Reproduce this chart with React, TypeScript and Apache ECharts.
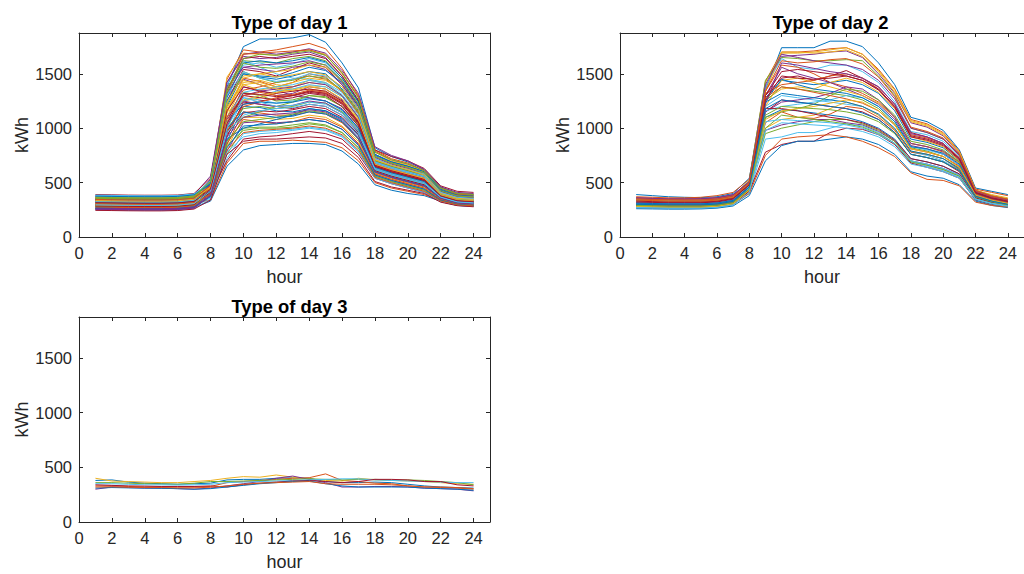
import React, { useEffect, useRef } from "react";
import * as echarts from "echarts";

const HOURS = [1, 2, 3, 4, 5, 6, 7, 8, 9, 10, 11, 12, 13, 14, 15, 16, 17, 18, 19, 20, 21, 22, 23, 24];
const X_TICKS = [0, 2, 4, 6, 8, 10, 12, 14, 16, 18, 20, 22, 24];
const Y_TICKS = [0, 500, 1000, 1500];
const TITLES = ["Type of day 1", "Type of day 2", "Type of day 3"];
const COLORS = ["#0072BD", "#D95319", "#EDB120", "#7E2F8E", "#77AC30", "#4DBEEE", "#A2142F"];

const DAY1: number[][] = [
  [330,328,326,325,325,328,345,480,1380,1750,1820,1820,1830,1860,1790,1600,1370,820,740,690,620,460,400,390],
  [360,355,352,350,350,352,370,520,1450,1720,1700,1720,1750,1780,1730,1550,1300,800,720,680,610,450,400,395],
  [300,298,296,295,295,298,315,500,1470,1690,1680,1670,1700,1720,1680,1500,1280,780,700,660,600,440,390,380],
  [380,378,375,374,374,376,390,560,1420,1660,1640,1650,1680,1700,1650,1480,1260,760,690,650,590,430,385,375],
  [270,268,266,265,265,268,285,450,1350,1620,1610,1600,1640,1660,1620,1460,1240,740,680,640,580,420,370,360],
  [320,318,316,315,315,318,335,470,1300,1580,1600,1560,1590,1640,1600,1440,1220,720,660,620,570,410,360,350],
  [350,348,345,344,344,346,362,500,1250,1540,1520,1480,1540,1600,1560,1400,1200,700,650,610,560,400,350,340],
  [290,288,286,285,285,288,305,430,1200,1500,1470,1450,1480,1520,1500,1360,1160,690,640,600,550,395,345,335],
  [260,258,256,255,255,258,275,420,1150,1460,1430,1380,1420,1500,1470,1340,1130,680,630,590,540,390,340,330],
  [340,338,336,335,335,338,352,480,1100,1420,1440,1400,1380,1420,1400,1300,1100,670,610,570,520,380,335,325],
  [310,308,306,305,305,308,322,450,1050,1380,1350,1300,1320,1380,1360,1260,1060,650,600,560,510,375,330,320],
  [370,368,365,364,364,366,380,520,1000,1330,1300,1250,1260,1300,1280,1200,1020,640,590,550,500,370,325,315],
  [280,278,276,275,275,278,292,400,950,1280,1260,1230,1250,1280,1250,1160,990,620,570,530,490,365,320,310],
  [330,328,326,325,325,328,342,440,920,1240,1220,1200,1180,1220,1200,1120,960,610,560,520,480,360,315,305],
  [300,298,296,295,295,298,312,410,880,1200,1190,1160,1150,1180,1160,1080,930,600,550,510,470,355,312,300],
  [250,248,246,245,245,248,262,380,850,1150,1140,1120,1120,1150,1130,1050,900,590,540,500,460,350,308,298],
  [360,358,355,354,354,356,370,470,820,1100,1100,1080,1090,1120,1100,1020,880,580,530,490,450,345,305,295],
  [320,318,316,315,315,318,332,420,790,1050,1060,1050,1060,1080,1060,990,850,570,520,480,440,340,300,290],
  [290,288,286,285,285,288,302,390,760,1000,1010,1010,1030,1050,1030,960,820,560,510,470,430,335,298,288],
  [270,268,266,265,265,268,282,360,720,950,970,980,990,1010,990,930,790,550,500,460,420,330,295,285],
  [340,338,336,335,335,338,352,400,700,900,920,930,950,970,950,900,760,540,490,450,410,325,292,282],
  [260,258,256,255,255,258,272,330,650,800,840,850,860,860,850,790,670,480,430,400,380,330,290,280],
  [300,298,296,295,295,298,312,340,680,860,880,880,890,880,870,820,700,500,450,420,390,335,295,285],
  [310,308,306,305,305,308,322,460,1150,1250,1280,1320,1380,1440,1420,1300,1100,660,610,570,530,380,335,325],
  [350,348,345,344,344,346,360,490,1300,1450,1400,1350,1300,1280,1250,1180,1000,630,580,540,500,370,330,320],
  [280,278,276,275,275,278,292,420,980,1100,1150,1200,1240,1300,1290,1200,1030,640,590,550,510,375,330,320],
  [330,328,326,325,325,328,342,500,1400,1620,1560,1500,1460,1450,1420,1330,1140,680,620,580,540,385,340,330],
  [390,388,385,384,384,386,400,540,1350,1640,1660,1640,1660,1680,1640,1480,1250,800,740,700,630,470,420,410],
  [260,258,256,255,255,258,272,380,900,1000,1040,1080,1120,1180,1160,1090,940,600,550,510,470,360,315,305],
  [300,298,296,295,295,298,312,430,1100,1350,1380,1420,1450,1480,1450,1340,1140,700,650,610,560,390,345,335],
  [340,338,336,335,335,338,352,470,1200,1400,1350,1380,1420,1460,1440,1350,1150,710,660,620,580,400,355,345],
  [370,368,365,364,364,366,380,510,1380,1560,1540,1520,1560,1580,1540,1400,1180,740,680,640,590,420,370,360],
  [290,288,286,285,285,288,302,410,1000,1180,1200,1180,1200,1240,1230,1150,980,620,570,530,490,365,320,310],
  [250,248,246,245,245,248,262,350,780,920,950,960,980,1000,980,920,780,540,490,450,410,325,290,280],
  [320,318,316,315,315,318,332,450,1080,1300,1280,1260,1280,1320,1300,1200,1020,650,600,560,520,375,330,320],
  [360,358,355,354,354,356,370,500,1250,1500,1480,1470,1510,1560,1530,1420,1200,750,690,650,600,430,380,370],
  [280,278,276,275,275,278,292,400,860,1080,1060,1040,1060,1100,1080,1010,860,580,530,490,450,345,305,295],
  [310,308,306,305,305,308,322,440,1150,1400,1420,1380,1360,1390,1380,1290,1090,670,620,580,540,385,340,330],
  [340,338,336,335,335,338,352,530,1420,1680,1700,1680,1700,1730,1690,1530,1320,830,750,700,620,460,410,400],
  [270,268,266,265,265,268,282,380,840,980,1000,1000,1010,1040,1020,960,820,560,510,470,430,335,298,288],
  [380,378,375,374,374,376,390,480,1050,1250,1300,1340,1360,1400,1380,1290,1100,680,630,590,550,390,345,335],
  [300,298,296,295,295,298,312,420,960,1220,1250,1270,1300,1330,1310,1220,1040,650,600,560,520,380,335,325],
  [345,343,340,339,339,342,356,490,1280,1600,1620,1600,1620,1650,1610,1460,1240,760,690,650,600,440,390,380],
  [275,273,271,270,270,273,288,440,1320,1680,1690,1700,1710,1720,1670,1510,1290,790,710,670,610,450,395,385],
  [365,363,360,359,359,362,376,470,1180,1460,1500,1520,1540,1580,1560,1430,1210,740,680,640,590,420,375,365],
  [255,253,251,250,250,253,267,390,1020,1300,1340,1360,1380,1420,1400,1300,1100,670,620,580,540,385,340,330],
  [325,323,321,320,320,323,337,460,1220,1520,1460,1420,1440,1480,1460,1350,1150,700,650,610,570,395,350,340],
  [385,383,380,379,379,382,396,500,1100,1330,1360,1380,1400,1440,1410,1310,1120,690,640,600,560,400,355,345],
  [295,293,291,290,290,293,307,410,940,1140,1160,1150,1170,1200,1180,1100,940,610,560,520,480,360,318,308],
  [265,263,261,260,260,263,277,370,820,1020,1030,1040,1060,1080,1060,990,840,570,520,480,440,338,300,290],
  [355,353,350,349,349,352,366,450,980,1200,1240,1280,1300,1340,1320,1230,1050,660,610,570,530,380,336,326],
  [305,303,301,300,300,303,317,440,1160,1440,1400,1360,1340,1360,1340,1250,1070,660,610,570,530,385,340,330],
  [335,333,331,330,330,333,347,480,1320,1560,1580,1590,1600,1620,1580,1430,1210,730,670,630,580,420,370,360],
  [285,283,281,280,280,283,297,400,880,1060,1080,1100,1130,1160,1140,1060,900,600,550,510,470,355,312,302],
  [375,373,370,369,369,372,386,520,1300,1520,1460,1430,1450,1500,1480,1380,1180,720,660,620,580,410,365,355],
  [245,243,241,240,240,243,257,340,760,880,900,900,910,920,910,860,730,510,460,430,400,320,288,278],
  [315,313,311,310,310,313,327,420,1000,1150,1120,1100,1110,1150,1130,1060,900,600,550,510,470,360,318,308],
  [345,343,341,340,340,343,357,470,1100,1300,1330,1300,1310,1350,1330,1240,1050,660,610,570,530,380,336,326],
  [295,293,291,290,290,293,307,450,1240,1480,1500,1470,1490,1520,1490,1380,1170,710,660,620,570,400,355,345],
  [265,263,261,260,260,263,277,400,1050,1250,1220,1200,1210,1250,1230,1140,970,630,580,540,500,370,326,316],
  [355,353,351,350,350,353,367,500,1360,1640,1680,1670,1690,1710,1670,1510,1280,780,710,670,610,450,400,390],
  [325,323,321,320,320,323,337,430,960,1120,1160,1180,1190,1220,1200,1120,950,620,570,530,490,365,322,312],
  [285,283,281,280,280,283,297,430,1160,1380,1340,1320,1340,1360,1340,1250,1060,660,610,570,530,380,336,326],
  [375,373,371,370,370,373,387,490,1060,1220,1240,1230,1240,1270,1250,1170,1000,640,590,550,510,380,336,326],
  [305,303,301,300,300,303,317,390,800,960,980,990,1000,1020,1000,940,800,550,500,460,420,332,296,286],
  [335,333,331,330,330,333,347,460,1060,1260,1300,1330,1350,1380,1360,1270,1080,670,620,580,540,385,340,330],
  [255,253,251,250,250,253,267,380,920,1100,1120,1130,1140,1170,1150,1070,910,600,550,510,470,355,312,302],
  [365,363,361,360,360,363,377,510,1330,1600,1560,1550,1570,1610,1580,1440,1220,740,680,640,590,425,378,368],
  [295,293,291,290,290,293,307,420,1000,1280,1240,1200,1210,1240,1220,1140,970,630,580,540,500,368,324,314],
  [315,313,311,310,310,313,327,440,1040,1320,1310,1290,1300,1340,1320,1230,1050,650,600,560,520,378,334,324],
];

const DAY2: number[][] = [
  [390,380,370,365,362,370,400,540,1350,1740,1740,1740,1800,1800,1750,1600,1400,1100,1060,980,800,450,420,390],
  [370,365,360,360,365,380,410,530,1430,1700,1700,1710,1730,1740,1680,1540,1360,1080,1040,960,790,440,410,380],
  [330,325,320,320,320,330,360,500,1420,1690,1690,1700,1720,1740,1680,1530,1350,1070,1030,950,780,430,390,360],
  [300,298,295,295,295,300,330,480,1380,1660,1670,1680,1700,1710,1650,1500,1320,1050,1010,930,770,420,370,340],
  [350,345,342,340,340,350,380,520,1440,1650,1640,1620,1620,1630,1620,1480,1300,1000,960,900,760,430,380,350],
  [320,318,315,315,315,322,350,500,1380,1640,1560,1540,1580,1580,1520,1420,1240,970,940,880,740,420,370,340],
  [310,308,305,305,305,312,340,470,1300,1460,1480,1440,1480,1530,1460,1380,1220,960,920,860,720,410,360,330],
  [290,288,285,285,285,292,320,450,1280,1440,1420,1400,1420,1440,1400,1320,1160,900,870,820,700,400,350,320],
  [280,278,275,275,275,282,310,440,1340,1580,1560,1500,1420,1380,1320,1240,1100,860,830,780,680,390,340,310],
  [340,335,330,330,330,338,360,480,1260,1360,1380,1360,1420,1460,1420,1330,1180,920,880,830,700,410,360,330],
  [360,355,350,350,352,362,390,500,1300,1560,1500,1460,1420,1360,1300,1220,1080,840,810,760,660,400,350,320],
  [300,298,295,295,295,302,330,460,1250,1380,1360,1340,1320,1300,1260,1180,1040,820,790,740,640,390,340,310],
  [330,325,320,320,320,328,355,470,1200,1300,1280,1260,1240,1220,1200,1120,990,780,750,700,620,380,330,300],
  [270,268,265,265,265,272,300,420,1150,1260,1240,1220,1200,1180,1150,1080,960,760,730,690,600,370,320,290],
  [290,288,285,285,285,292,318,440,1100,1170,1160,1140,1120,1100,1060,1000,900,720,690,650,580,360,315,290],
  [310,305,300,300,300,308,335,450,1050,1150,1100,1090,1130,1200,1180,1100,980,780,760,720,620,380,330,300],
  [280,278,275,275,275,282,305,430,1000,1080,1100,1120,1180,1240,1200,1120,990,790,760,720,630,380,335,305],
  [320,318,315,315,315,322,345,460,980,1030,1060,1080,1080,1050,1030,970,880,700,670,630,570,350,310,285],
  [300,298,295,295,295,302,325,440,950,1000,1030,1060,1080,1080,1040,980,880,700,660,620,560,350,305,285],
  [270,268,265,265,265,272,295,400,900,920,960,960,1000,1040,1020,960,860,690,650,610,550,340,300,280],
  [290,288,285,285,285,292,315,420,780,850,880,880,960,1000,990,940,850,680,640,600,540,340,300,280],
  [260,258,256,256,258,265,285,380,700,840,880,880,900,920,900,850,760,600,560,540,480,330,290,270],
  [280,278,275,275,275,282,300,400,750,900,920,930,940,920,880,820,740,590,530,520,470,320,290,275],
  [330,325,320,320,320,328,350,470,1200,1440,1460,1420,1380,1340,1300,1230,1100,860,830,790,680,400,350,320],
  [350,345,342,340,340,348,375,500,1150,1240,1260,1280,1320,1380,1360,1260,1100,860,830,790,690,400,350,320],
  [300,298,295,295,295,302,330,460,1100,1150,1180,1220,1300,1360,1340,1260,1120,880,850,800,690,400,350,320],
  [320,318,315,315,315,322,345,470,1160,1200,1220,1240,1260,1300,1280,1200,1060,830,800,760,660,390,345,315],
  [310,305,300,300,300,308,335,460,1180,1180,1160,1130,1100,1080,1050,990,890,720,690,650,580,360,315,290],
  [340,335,330,330,330,338,360,480,1250,1450,1400,1360,1340,1320,1280,1200,1060,830,810,770,670,400,350,320],
  [360,355,350,350,350,358,385,510,1320,1400,1420,1440,1480,1500,1460,1360,1200,940,910,860,730,420,370,340],
  [340,335,330,330,330,338,365,490,1340,1700,1700,1690,1700,1720,1660,1520,1330,1060,1020,940,780,430,380,350],
  [290,288,285,285,285,292,318,450,1220,1600,1580,1550,1520,1500,1460,1380,1220,950,920,860,720,410,360,330],
  [280,278,275,275,275,282,308,440,1000,1120,1100,1080,1060,1040,1010,950,860,690,660,620,560,350,310,285],
  [310,308,305,305,305,312,335,450,1060,1080,1070,1060,1050,1030,1000,940,860,700,670,630,570,350,310,290],
  [320,318,315,315,315,322,348,480,1300,1520,1540,1520,1500,1480,1440,1360,1200,930,900,850,720,410,360,330],
  [300,298,295,295,295,302,328,460,1240,1320,1300,1280,1260,1240,1200,1130,1000,790,760,720,630,385,335,305],
  [340,335,330,330,330,338,362,490,1280,1380,1360,1330,1300,1270,1230,1160,1030,810,780,740,650,395,345,315],
  [280,278,275,275,275,282,306,430,1080,1160,1180,1200,1230,1260,1240,1160,1030,810,780,740,640,385,338,308],
  [360,355,350,350,352,360,388,510,1400,1680,1650,1620,1600,1580,1540,1440,1270,1000,960,900,750,425,375,345],
  [290,288,285,285,285,292,316,440,1120,1200,1190,1180,1170,1150,1120,1060,950,760,730,690,610,370,325,295],
  [270,268,265,265,265,272,296,410,980,1050,1040,1030,1020,1000,970,920,830,670,640,600,540,345,305,282],
  [330,325,320,320,320,328,354,480,1260,1480,1460,1450,1460,1480,1440,1350,1190,920,890,840,710,405,355,325],
  [310,308,305,305,305,312,336,460,1180,1260,1240,1220,1200,1180,1140,1080,960,760,730,690,610,375,330,300],
  [350,345,342,340,340,348,372,500,1340,1620,1600,1610,1630,1640,1590,1470,1290,1010,970,910,760,428,378,348],
];

const DAY3: number[][] = [
  [380,385,365,355,350,345,350,355,385,390,390,400,405,400,370,360,360,365,360,345,330,320,315,310],
  [330,330,325,320,320,320,320,325,360,370,380,390,400,405,440,380,370,355,350,330,320,315,310,300],
  [400,375,370,365,360,360,370,380,400,415,410,430,410,395,380,375,400,385,380,375,370,360,350,345],
  [300,320,315,310,310,305,300,310,330,350,370,400,420,390,360,320,320,325,325,320,310,305,300,285],
  [360,360,355,350,348,345,355,370,370,375,380,385,390,395,390,385,390,390,385,385,380,370,360,340],
  [350,350,345,340,340,338,340,345,360,365,370,375,380,385,390,395,395,385,380,375,370,365,360,360],
  [340,335,330,328,325,325,325,330,320,340,355,365,375,380,370,360,370,390,390,385,370,370,340,330],
  [310,315,312,310,308,305,300,305,320,335,350,360,370,375,350,330,320,320,320,320,310,305,300,290],
  [320,322,318,315,315,312,312,318,330,345,355,360,365,370,350,345,345,345,340,330,320,320,315,305],
];

const DATASETS = [DAY1, DAY2, DAY3];

const AXIS_COLOR = "#262626";
const FONT = "'Liberation Sans', Arial, Helvetica, sans-serif";
const TICK_RICH = { t: { fontSize: 16.5, fontFamily: FONT, color: AXIS_COLOR } };

export default function App() {
  const ref = useRef<HTMLDivElement>(null);
  useEffect(() => {
    if (!ref.current) return;
    const chart = echarts.init(ref.current, undefined, { renderer: "svg" });
    const grids = [
      { left: 79, top: 33, width: 411, height: 204 },
      { left: 620, top: 33, width: 411, height: 204 },
      { left: 79, top: 317, width: 411, height: 205 },
    ];
    const xMax = 25;
    const yMax = 1875;
    const xAxes: any[] = [];
    const yAxes: any[] = [];
    const series: any[] = [];
    const titles: any[] = [];
    grids.forEach((g, i) => {
      const common = {
        gridIndex: i,
        type: "value",
        min: 0,
        interval: 2,
        max: xMax,
        splitLine: { show: false },
        axisLine: { show: true, onZero: false, lineStyle: { color: AXIS_COLOR, width: 1 } },
        axisTick: { show: true, inside: true, length: 4, lineStyle: { color: AXIS_COLOR } },
      };
      xAxes.push({
        ...common,
        position: "bottom",
        name: "hour",
        nameLocation: "middle",
        nameGap: 31,
        nameTextStyle: { color: AXIS_COLOR, fontSize: 18, fontFamily: FONT },
        axisLabel: {
          color: AXIS_COLOR, fontSize: 16.5, fontFamily: FONT, margin: 7,
          showMaxLabel: false,
          rich: TICK_RICH,
          formatter: (v: number) => (X_TICKS.includes(v) ? `{t|${v}}` : ""),
        },
      });
      xAxes.push({ ...common, position: "top", axisLabel: { show: false } });
      const ycommon = {
        gridIndex: i,
        type: "value",
        min: 0,
        max: yMax,
        interval: 500,
        splitLine: { show: false },
        axisLine: { show: true, onZero: false, lineStyle: { color: AXIS_COLOR, width: 1 } },
        axisTick: { show: true, inside: true, length: 4, lineStyle: { color: AXIS_COLOR } },
      };
      yAxes.push({
        ...ycommon,
        position: "left",
        name: "kWh",
        nameLocation: "middle",
        nameGap: 48,
        nameTextStyle: { color: AXIS_COLOR, fontSize: 18, fontFamily: FONT },
        axisLabel: {
          color: AXIS_COLOR, fontSize: 16.5, fontFamily: FONT, margin: 7,
          showMaxLabel: false,
          rich: TICK_RICH,
          formatter: (v: number) => (Y_TICKS.includes(v) ? `{t|${v}}` : ""),
        },
      });
      yAxes.push({ ...ycommon, position: "right", axisLabel: { show: false } });
      titles.push({
        text: TITLES[i],
        left: g.left + g.width / 2,
        top: g.top - 25,
        textAlign: "center",
        textStyle: { color: "#000", fontSize: 18.4, fontWeight: "bold", fontFamily: FONT },
      });
      DATASETS[i].forEach((row, j) => {
        series.push({
          type: "line",
          xAxisIndex: i * 2,
          yAxisIndex: i * 2,
          data: HOURS.map((h, k) => [h, row[k]]),
          showSymbol: false,
          symbol: "none",
          silent: true,
          lineStyle: { width: 1, color: COLORS[j % COLORS.length] },
          itemStyle: { color: COLORS[j % COLORS.length] },
          emphasis: { disabled: true },
        });
      });
    });
    chart.setOption({
      animation: false,
      backgroundColor: "#ffffff",
      title: titles,
      grid: grids,
      xAxis: xAxes,
      yAxis: yAxes,
      series,
    });
    return () => chart.dispose();
  }, []);
  return (
    <div
      ref={ref}
      style={{ position: "absolute", left: 0, top: 0, width: 1024, height: 574, background: "#fff" }}
    />
  );
}
